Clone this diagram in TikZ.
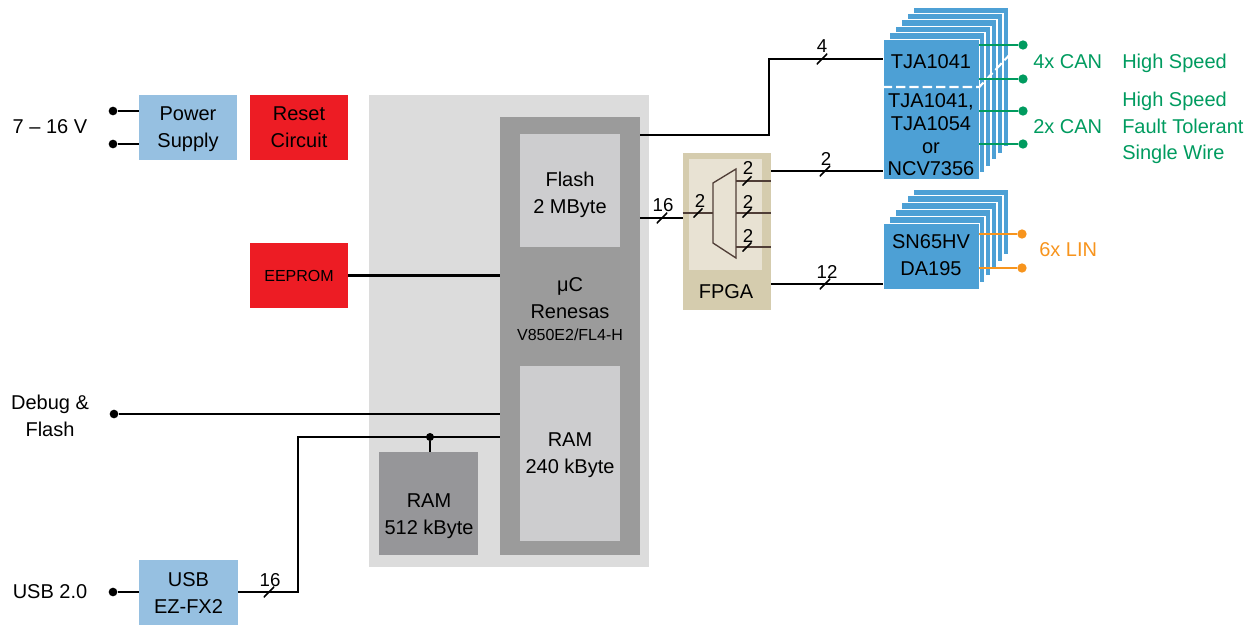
\documentclass[tikz,border=0pt]{standalone}
\usepackage{fontspec}
\setmainfont{Liberation Sans}
\usetikzlibrary{fit,calc}
\definecolor{psblue}{RGB}{150,192,225}
\definecolor{rred}{RGB}{237,28,36}
\definecolor{regiongray}{RGB}{220,220,220}
\definecolor{ucgray}{RGB}{155,155,155}
\definecolor{memgray}{RGB}{205,205,207}
\definecolor{ramgray}{RGB}{150,150,153}
\definecolor{fpgaout}{RGB}{213,204,174}
\definecolor{fpgain}{RGB}{232,226,211}
\definecolor{trblue}{RGB}{77,160,213}
\definecolor{cangreen}{RGB}{0,155,95}
\definecolor{linorange}{RGB}{247,148,29}
\definecolor{muxbrown}{RGB}{80,62,55}
\tikzset{
  blk/.style={fit={#1}, inner sep=0pt, draw=none},
  txt/.style={font=\fontsize{15}{20}\selectfont, align=center, inner sep=0pt},
  small/.style={font=\fontsize{12}{15}\selectfont, inner sep=0pt},
  num/.style={font=\fontsize{14}{16}\selectfont, inner sep=0pt},
  wire/.style={line width=1.6pt, black},
  muxline/.style={line width=1pt, muxbrown},
  term/.style={circle, fill=black, inner sep=0pt, minimum size=6.5pt},
  junc/.style={circle, fill=black, inner sep=0pt, minimum size=6pt},
  gdot/.style={circle, fill=cangreen, inner sep=0pt, minimum size=7pt},
  odot/.style={circle, fill=linorange, inner sep=0pt, minimum size=7pt},
  gwire/.style={line width=2.2pt, cangreen},
  owire/.style={line width=2.2pt, linorange},
  slash/.style={inner sep=0pt, minimum width=8pt, minimum height=8pt,
    path picture={\draw[line width=1.2pt] (path picture bounding box.south west) -- (path picture bounding box.north east);}},
  stackbox/.style={fill=trblue, draw=white, line width=0.8pt}
}
\begin{document}
\begin{tikzpicture}[x=0.75pt,y=-0.75pt]
\useasboundingbox (0,0) rectangle (1257,625);

% controller region
\node[blk={(369,95) (649,567)}, fill=regiongray] (region) {};
\node[blk={(500,117) (640,555)}, fill=ucgray] (uc) {};
\node[blk={(520,134) (620,247)}, fill=memgray] (flash) {};
\node[txt] (flasht) at (570,195) {Flash\\2 MByte};
\node[blk={(520,366) (620,541)}, fill=memgray] (ram240) {};
\node[txt] (ram240t) at (570,455) {RAM\\240 kByte};
\node[txt] (uc1) at (570,286) {μC};
\node[txt] (uc2) at (570,312) {Renesas};
\node[small] (uc3) at (570,335) {V850E2/FL4-H};
\node[blk={(379,452) (478,555)}, fill=ramgray] (ram512) {};
\node[txt] (ram512t) at (429,516) {RAM\\512 kByte};

% left blocks
\node[blk={(139,95) (237,160)}, fill=psblue] (ps) {};
\node[txt] (pst) at (188,129) {Power\\Supply};
\node[blk={(250,95) (348,160)}, fill=rred] (reset) {};
\node[txt] (resett) at (299,127.5) {Reset\\Circuit};
\node[blk={(250,243) (348,308)}, fill=rred] (eeprom) {};
\node[small] (eepromt) at (299,276) {EEPROM};
\node[blk={(139,560) (238,625)}, fill=psblue] (usb) {};
\node[txt] (usbt) at (188.5,593) {USB\\EZ-FX2};

\node[txt] (vin) at (50,127) {7 – 16 V};
\node[txt] (dbg) at (50,416) {Debug \&\\Flash};
\node[txt] (usbin) at (50,592) {USB 2.0};

\node[term] (t1) at (113,111) {};
\node[term] (t2) at (113,144) {};
\node[term] (t3) at (114,414) {};
\node[term] (t4) at (113,592) {};

\draw[wire] (t1) -- (ps.west |- t1);
\draw[wire] (t2) -- (ps.west |- t2);
\draw[wire] (t3) -- (uc.west |- t3);
\draw[wire] (t4) -- (usb.west |- t4);
\draw[wire] (eeprom.east) -- (uc.west |- eeprom.east);

\coordinate (bend) at (298,437);
\node[junc] (jn) at (430,437) {};
\draw[wire] (usb.east |- t4) -| (bend) -- (uc.west |- bend);
\draw[wire] (jn) -- (ram512.north -| jn);
\node[slash] (s16b) at (269,592) {};
\node[num] (n16b) at (270,580) {16};

% FPGA
\node[blk={(683,153) (771,310)}, fill=fpgaout] (fpga) {};
\node[blk={(689,159) (762,270)}, fill=fpgain] (fpgai) {};
\node[txt] (fpgalbl) at (726,292) {FPGA};
\coordinate (mA) at (713,183);
\coordinate (mB) at (736,169);
\coordinate (mC) at (736,258);
\coordinate (mD) at (713,243);
\draw[muxline] (mA) -- (mB) -- (mC) -- (mD) -- cycle;
\draw[muxline] (fpga.west |- 0,213) -- (mA |- 0,213);
\foreach \y/\k in {181/1,213/2,247/3}{
  \draw[muxline] (mB |- 0,\y) -- (fpga.east |- 0,\y);
  \node[slash, minimum width=7pt, minimum height=7pt] (ms\k) at (747,\y) {};
}
\node[slash, minimum width=7pt, minimum height=7pt] (msi) at (698,213) {};
\node[num] (mn0) at (700,201) {2};
\node[num] (mn1) at (748,168) {2};
\node[num] (mn2) at (748,202) {2};
\node[num] (mn3) at (748,236) {2};

% CAN stack
\foreach \i in {5,4,3,2,1}{
  \node[blk={(883+6*\i,39-6.4*\i) (979+6*\i,179-6.4*\i)}, stackbox] (canb\i) {};
}
\node[blk={(883,39) (979,179)}, stackbox, line width=0.5pt] (canF) {};
\draw[white, line width=1.6pt, dash pattern=on 7pt off 3pt] (canF.west |- 0,87) -- (canF.east |- 0,87) -- ++(31,-33);
\node[txt] (tja1) at (931,62) {TJA1041};
\node[txt, font=\fontsize{15}{17}\selectfont] (tja2) at (931,135) {TJA1041,\\TJA1054\\or\\NCV7356};
\foreach \y/\k in {45/1,79/2,111/3,144/4}{
  \node[gdot] (cp\k) at (1023,\y) {};
  \draw[gwire] (canF.east |- cp\k) -- (cp\k);
}
\node[txt, text=cangreen, anchor=west] (can4) at (1033,62) {4x CAN};
\node[txt, text=cangreen, anchor=west] (can2) at (1033,127) {2x CAN};
\node[txt, text=cangreen, anchor=west] (hs) at (1122,63) {High Speed};
\node[txt, text=cangreen, anchor=west, align=left] (ft) at (1122,128) {High Speed\\Fault Tolerant\\Single Wire};

% LIN stack
\foreach \i in {5,4,3,2,1}{
  \node[blk={(883+6*\i,223-6.8*\i) (979+6*\i,289-6.8*\i)}, stackbox] (linb\i) {};
}
\node[blk={(883,223) (979,289)}, stackbox, line width=0.5pt] (linF) {};
\node[txt] (lint) at (931,255) {SN65HV\\DA195};
\foreach \y/\k in {234/1,268/2}{
  \node[odot] (lp\k) at (1022,\y) {};
  \draw[owire] (linF.east |- lp\k) -- (lp\k);
}
\node[txt, text=linorange, anchor=west] (lin6) at (1039,250) {6x LIN};

% buses
\coordinate (canbend) at (769,135);
\draw[wire] (uc.east |- canbend) -- (canbend) |- (canF.west |- 0,59);
\node[slash] (s4) at (822,59) {};
\node[num] (n4) at (822,46) {4};

\draw[wire] (uc.east |- 0,218) -- (fpga.west |- 0,218);
\node[slash] (s16a) at (662,218) {};
\node[num] (n16a) at (663,205) {16};

\draw[wire] (fpga.east |- 0,171) -- (canF.west |- 0,171);
\node[slash] (s2) at (825,171) {};
\node[num] (n2) at (826,159) {2};

\draw[wire] (fpga.east |- 0,284) -- (linF.west |- 0,284);
\node[slash] (s12) at (825,284) {};
\node[num] (n12) at (827,272) {12};
\end{tikzpicture}
\end{document}
